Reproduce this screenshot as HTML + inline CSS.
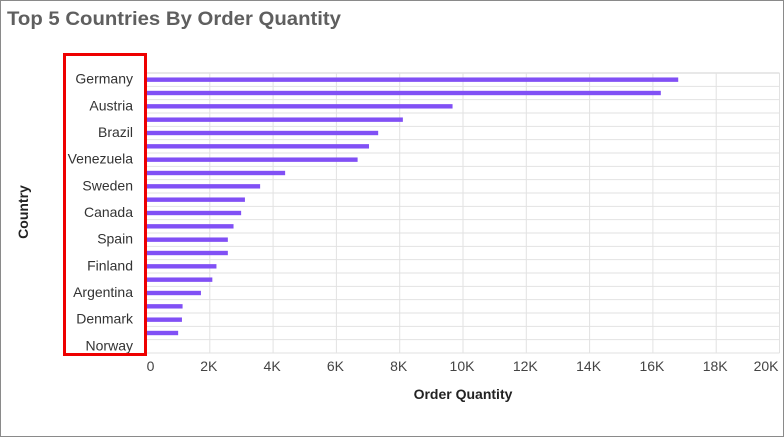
<!DOCTYPE html>
<html><head><meta charset="utf-8"><style>
html,body{margin:0;padding:0;background:#fff;}
svg{display:block;font-family:"Liberation Sans",sans-serif;}
</style></head><body>
<svg id="chart" width="784" height="437" viewBox="0 0 784 437">
<rect x="0.5" y="0.5" width="783" height="436" fill="#fff" stroke="#8a8a8a"/>
<text x="7" y="25" font-size="19" font-weight="bold" fill="#5f5f5f" textLength="334" lengthAdjust="spacingAndGlyphs">Top 5 Countries By Order Quantity</text>
<g id="grid"></g>
<g id="bars"></g>
<g id="ylabels"></g>
<g id="xlabels"></g>
<rect x="64.5" y="54.5" width="81" height="300" fill="none" stroke="#ee0000" stroke-width="3"/>
<text transform="translate(28,212) rotate(-90)" text-anchor="middle" font-size="14" font-weight="bold" fill="#222">Country</text>
<text x="463" y="399" text-anchor="middle" font-size="14" font-weight="bold" fill="#222">Order Quantity</text>
</svg>
<script>
const categories = ["Germany","USA","Austria","France","Brazil","UK","Venezuela","Ireland","Sweden","Belgium","Canada","Mexico","Spain","Switzerland","Finland","Italy","Argentina","Portugal","Denmark","Poland","Norway"];
const values = [16800,16250,9670,8100,7320,7030,6670,4380,3590,3110,2990,2750,2570,2570,2210,2080,1720,1140,1120,1000,0];
const xTicks = [0,2000,4000,6000,8000,10000,12000,14000,16000,18000,20000];
const xTickLabels = ["0","2K","4K","6K","8K","10K","12K","14K","16K","18K","20K"];

const NS="http://www.w3.org/2000/svg";
const x0=146.5, x1=779.5, xMax=20000, yTop=73, yBot=353;
const xScale=v=>x0+(v/xMax)*(x1-x0);
const rowH=(yBot-yTop)/categories.length;
const yScale=i=>yTop+i*rowH;
function mk(tag,attrs,parent){const e=document.createElementNS(NS,tag);for(const k in attrs)e.setAttribute(k,attrs[k]);parent.appendChild(e);return e;}
const grid=document.getElementById('grid'),bars=document.getElementById('bars'),yl=document.getElementById('ylabels'),xl=document.getElementById('xlabels');
mk('rect',{x:x0,y:yTop-1,width:x1-x0,height:2,fill:'#eeeeee'},grid);
for(let i=0;i<=categories.length;i++){
  const l=mk('line',{x1:x0,x2:x1,y1:yScale(i),y2:yScale(i),stroke:'#e2e2e2','stroke-width':1},grid);
  
  
}
xTicks.forEach((t,i)=>{
  const l=mk('line',{x1:xScale(t),x2:xScale(t),y1:yTop,y2:yBot,stroke:'#e2e2e2','stroke-width':1},grid);
  
  
  const last=i===xTicks.length-1;
  const tx=mk('text',{x:xScale(t)+(i===0?5:0)+(last?-1:-1),y:371,'text-anchor':last?'end':'middle','font-size':14,fill:'#444'},xl);
  tx.textContent=xTickLabels[i];
  
  
});
categories.forEach((c,i)=>{
  const cy=yScale(i)+rowH/2;
  if(values[i]>0){
    const r=mk('rect',{x:x0,y:cy-2.2,width:xScale(values[i])-x0,height:4.4,fill:'#8150f5'},bars);
    
    
  }
  if(i%2===0){
    const t=mk('text',{x:133,y:cy+4,'text-anchor':'end','font-size':14,fill:'#333'},yl);
    t.textContent=c;
    
    
  }
});
</script>
</body></html>
